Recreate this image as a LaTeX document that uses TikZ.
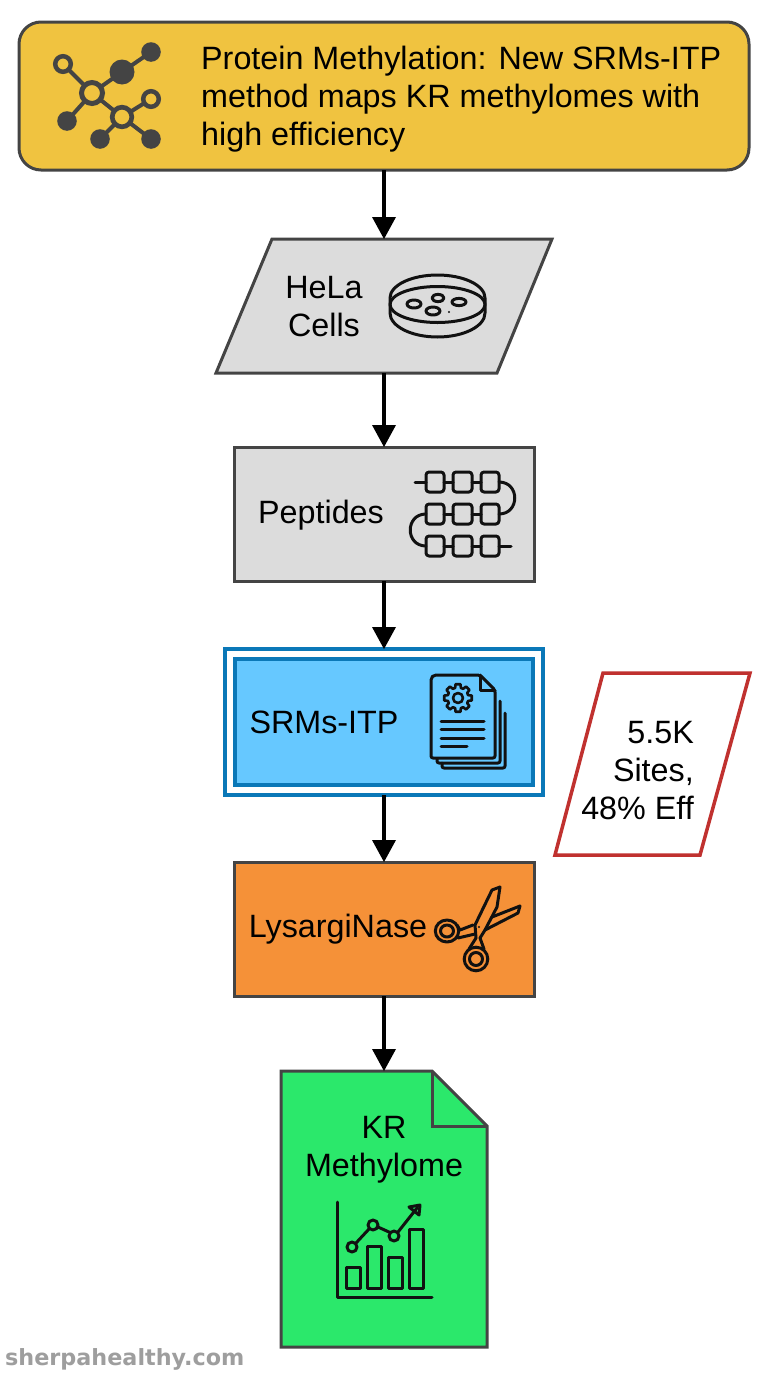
\documentclass[tikz,border=0pt]{standalone}
\usepackage{fontspec}
\setmainfont{Liberation Sans}
\newfontfamily\wmfont{DejaVu Sans}
\usetikzlibrary{arrows.meta}
\definecolor{ink}{HTML}{444444}
\definecolor{icon}{HTML}{111111}
\definecolor{yel}{HTML}{F0C340}
\definecolor{gry}{HTML}{DCDCDC}
\definecolor{blu}{HTML}{66C8FF}
\definecolor{bluedge}{HTML}{0A78B8}
\definecolor{org}{HTML}{F59138}
\definecolor{grn}{HTML}{2BE86B}
\definecolor{redge}{HTML}{C0312F}
\tikzset{
  box/.style={rectangle,draw=ink,line width=3pt,outer sep=0pt,inner sep=0pt},
  anchorbox/.style={rectangle,outer sep=0pt,inner sep=0pt},
  label text/.style={font=\fontsize{32.3}{38}\selectfont,align=center,text=black,inner sep=0pt},
  flow/.style={line width=4.5pt,black,-{Triangle[width=24pt,length=22pt,line width=0pt]}},
  ic/.style={draw=icon,line width=3pt,line join=round,line cap=round},
  netline/.style={draw=ink,line width=4pt},
  netfill/.style={fill=ink},
  netopen/.style={draw=ink,fill=yel}
}
\begin{document}
\begin{tikzpicture}[x=1pt,y=-1pt]
\useasboundingbox[fill=white] (0,0) rectangle (768,1376);

% --- title
\node[box,fill=yel,rounded corners=22pt,minimum width=730pt,minimum height=148pt] (title) at (384,96) {};
\node[label text,align=left,anchor=west] (titletext) at (201,99) {Protein Methylation: New SRMs-ITP\\method maps KR methylomes with\\high efficiency};
\draw[netline] (63,64)--(92,93)--(122,72)--(151,52);
\draw[netline] (92,93)--(122,117)--(151,99);
\draw[netline] (92,93)--(67,121);
\draw[netline] (122,117)--(100,139);
\draw[netline] (122,117)--(151,139);
\fill[netfill] (122,72) circle (12.5);
\fill[netfill] (151,52) circle (9.8);
\fill[netfill] (67,121) circle (9.8);
\fill[netfill] (100,139) circle (9.8);
\fill[netfill] (151,139) circle (9.8);
\draw[netopen,line width=4.5pt] (63,64) circle (7.8);
\draw[netopen,line width=5pt] (92,93) circle (10.5);
\draw[netopen,line width=4.5pt] (151,99) circle (7.8);
\draw[netopen,line width=4.7pt] (122,117) circle (9.8);

% --- HeLa
\node[anchorbox,minimum width=280pt,minimum height=134pt] (hela) at (384,306) {};
\draw[draw=ink,line width=3pt,fill=gry,line join=miter] (272,239)--(552,239)--(497,373)--(216,373)--cycle;
\node[label text] (helatext) at (324,307) {HeLa\\Cells};
\begin{scope}[ic]
\draw (390,298) arc[start angle=180,end angle=0,x radius=47.5,y radius=-23] -- (485,313) arc[start angle=0,end angle=-180,x radius=47.5,y radius=-24] -- cycle;
\draw (437.5,304.5) ellipse (47.5 and 18);
\draw (414,304) ellipse (7 and 4);
\draw (438,298) ellipse (6 and 3.6);
\draw (459,302) ellipse (7 and 3.6);
\draw (433,311) ellipse (7 and 4);
\end{scope}
\fill[icon] (449,312) circle (1.2);

% --- Peptides
\node[box,fill=gry,minimum width=300pt,minimum height=134pt] (pep) at (384.5,514) {};
\node[label text] (peptext) at (321,515) {Peptides};
\begin{scope}[ic]
\foreach \yy in {472,504,536}{
  \draw[rounded corners=3pt] (426,\yy) rectangle (444,\yy+20);
  \draw[rounded corners=3pt] (453,\yy) rectangle (472,\yy+20);
  \draw[rounded corners=3pt] (481,\yy) rectangle (499,\yy+20);
  \draw (444,\yy+10)--(453,\yy+10);
  \draw (472,\yy+10)--(481,\yy+10);
}
\draw (415,482)--(426,482);
\draw (499,546)--(511,546);
\draw (499,482) .. controls (520,482) and (520,514) .. (499,514);
\draw (426,514) .. controls (405,514) and (405,546) .. (426,546);
\end{scope}

% --- SRMs-ITP
\node[rectangle,draw=bluedge,line width=3.5pt,fill=white,outer sep=0pt,minimum width=318pt,minimum height=146pt] (srm) at (384,722) {};
\draw[draw=bluedge,line width=4pt,fill=blu] (235,659) rectangle (533,785);
\node[label text] (srmtext) at (324,722) {SRMs-ITP};
\begin{scope}[ic]
\draw[rounded corners=2pt] (505,713)--(505,768)--(442,768)--(442,763);
\draw[rounded corners=2pt] (500,701)--(500,763)--(437,763)--(437,758);
\draw[rounded corners=2pt,fill=blu] (480,675)--(434,675)--(431,678)--(431,758)--(495,758)--(495,690)--cycle;
\draw (480,675)--(480,690)--(495,690);
\draw (441,721)--(484,721);
\draw (441,729)--(484,729);
\draw (441,738)--(484,738);
\draw (441,746)--(467,746);
\begin{scope}[shift={(458,698)}]
\draw[line width=2.6pt] (-10:14) \foreach \ang in {0,45,...,315}{ -- (\ang-10:14) -- (\ang+10:14) -- (\ang+16:10.5) -- (\ang+29:10.5)} -- cycle;
\draw[line width=2.6pt] (0,0) circle (5);
\end{scope}
\end{scope}

% --- LysargiNase
\node[box,fill=org,minimum width=300pt,minimum height=134pt] (lys) at (384.5,929) {};
\node[label text] (lystext) at (338,929) {LysargiNase};
\begin{scope}[ic]
\draw (500,887)--(492,890)--(475,925)--(476,938)--(469,949);
\draw (500,887)--(497,907)--(485,930)--(480,938)--(484,949);
\draw (520,906)--(492,917);
\draw (520,906)--(518,913)--(485,930);
\draw (473,925)--(460,930)--(457,925);
\draw (475,934)--(458,938);
\draw (476,959) circle (11.8);
\draw (476,959) circle (6.5);
\draw (447,931) ellipse (11.7 and 11);
\draw (447,931) ellipse (6.5 and 6);
\end{scope}
\fill[icon] (479,927) circle (1.2);

% --- KR Methylome
\node[anchorbox,minimum width=206pt,minimum height=276pt] (kr) at (384,1209) {};
\draw[draw=ink,line width=3pt,fill=grn,line join=miter] (281,1071)--(432,1071)--(487,1126)--(487,1347)--(281,1347)--cycle;
\draw[draw=ink,line width=3pt] (432,1071)--(432,1126)--(487,1126);
\node[label text] (krtext) at (384,1150) {KR\\Methylome};
\begin{scope}[ic]
\draw (337,1202)--(337,1297)--(432,1297);
\draw (346,1267) rectangle (360,1288);
\draw (367,1246) rectangle (381,1288);
\draw (388,1257) rectangle (402,1288);
\draw (409,1229) rectangle (423,1288);
\draw (356,1243)--(369,1229);
\draw (378,1227)--(389,1232);
\draw (398,1232)--(417,1208);
\draw (352,1247) circle (5);
\draw (373,1225) circle (5);
\draw (394,1236) circle (5);
\draw (409,1207)--(420,1205)--(419,1215)--cycle;
\end{scope}

% --- metric
\draw[draw=redge,line width=3.5pt,fill=white,line join=miter] (603,673)--(750,673)--(700,855)--(555,855)--cycle;
\node[label text,align=right,anchor=east] (metric) at (694,771) {5.5K\\Sites,\\48\% Eff};

% --- watermark
\node[font=\wmfont\bfseries\fontsize{22.3}{26}\selectfont,text=black!38,anchor=base west,inner sep=0pt] (wm) at (5,1365) {sherpahealthy.com};

% --- connectors
\draw[flow] (title.south) -- (hela.north);
\draw[flow] (hela.south) -- (hela.south |- pep.north);
\draw[flow] (hela.south |- pep.south) -- (hela.south |- srm.north);
\draw[flow] (srm.south) -- (srm.south |- lys.north);
\draw[flow] (srm.south |- lys.south) -- (kr.north);
\end{tikzpicture}
\end{document}
